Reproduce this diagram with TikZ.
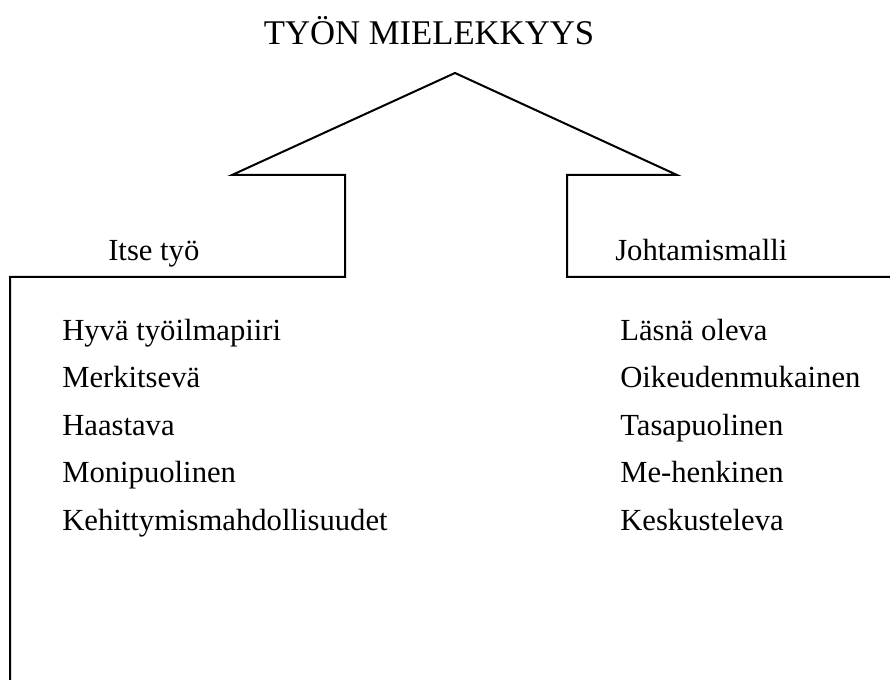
\documentclass[tikz,border=0pt]{standalone}
\usepackage{fontspec}
\setmainfont{Liberation Serif}
\usepackage{tikz}
\usetikzlibrary{positioning, calc}

\begin{document}
\begin{tikzpicture}[
  x=0.75pt, y=-0.75pt,
  outline/.style={draw=black, line width=1.5pt, line join=miter},
  label/.style={anchor=base west, inner sep=0pt, font=\fontsize{23}{28}\selectfont},
  title/.style={anchor=base, inner sep=0pt, font=\fontsize{26}{31}\selectfont}
]
  \useasboundingbox (0,0) rectangle (890,680);

  % ── House outline ──────────────────────────────────────────────────────────
  \coordinate (bl) at (10,680);
  \coordinate (cl) at (10,277);
  \coordinate (sl) at (345,277);
  \coordinate (ul) at (345,175);
  \coordinate (wl) at (232,175);
  \coordinate (apex) at (455,73);
  \coordinate (wr) at (677,175);
  \coordinate (ur) at (567,175);
  \coordinate (sr) at (567,277);
  \coordinate (er) at (890,277);
  \draw[outline] (bl) -- (cl) -- (sl) -- (ul) -- (wl) -- (apex)
    -- (wr) -- (ur) -- (sr) -- (er);

  % ── Headings ───────────────────────────────────────────────────────────────
  \node[title] (top) at (429,45) {TYÖN MIELEKKYYS};
  \node[label] (itse) at (108,261) {Itse työ};
  \node[label] (johto) at (615,261) {Johtamismalli};

  % ── Left column ────────────────────────────────────────────────────────────
  \node[label] (l1) at (62,341) {Hyvä työilmapiiri};
  \node[label] (l2) at (62,388) {Merkitsevä};
  \node[label] (l3) at (62,436) {Haastava};
  \node[label] (l4) at (62,483) {Monipuolinen};
  \node[label] (l5) at (62,531) {Kehittymismahdollisuudet};

  % ── Right column ───────────────────────────────────────────────────────────
  \node[label] (r1) at (620,341) {Läsnä oleva};
  \node[label] (r2) at (620,388) {Oikeudenmukainen};
  \node[label] (r3) at (620,436) {Tasapuolinen};
  \node[label] (r4) at (620,483) {Me-henkinen};
  \node[label] (r5) at (620,531) {Keskusteleva};
\end{tikzpicture}
\end{document}
